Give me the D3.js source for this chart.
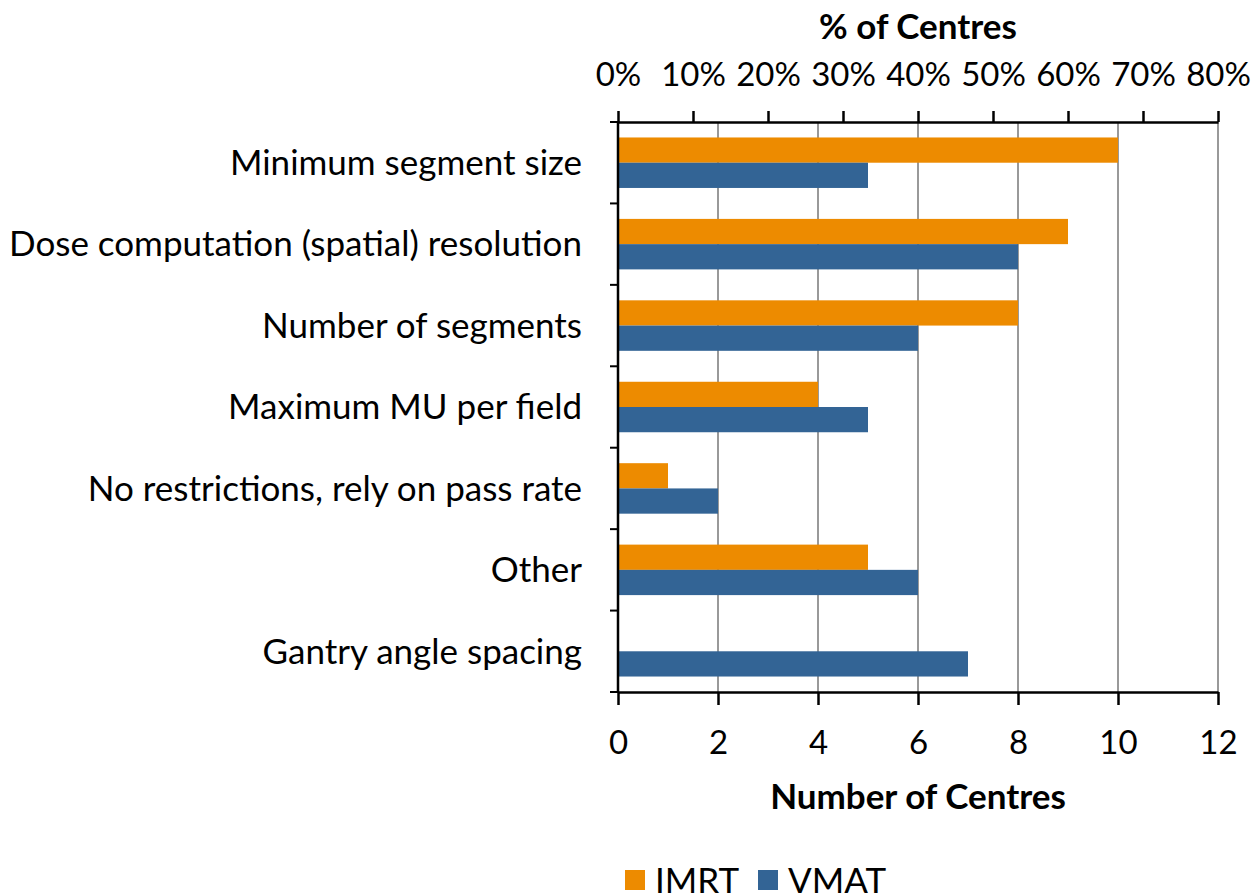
<!DOCTYPE html>
<html>
<head>
<meta charset="utf-8">
<script src="https://cdn.jsdelivr.net/npm/d3@7"></script>
<style>
  body { margin: 0; background: #fff; }
  text { font-family: Lato, "Open Sans", sans-serif; fill: #000; }
</style>
</head>
<body>
<div class="container"></div>
<script>
// chart data
var categories = ['Minimum segment size', 'Dose computation (spatial) resolution', 'Number of segments',
  'Maximum MU per field', 'No restrictions, rely on pass rate', 'Other', 'Gantry angle spacing']
var series = ['IMRT', 'VMAT']
var imrt = [10, 9, 8, 4, 1, 5, 0]
var vmat = [5, 8, 6, 5, 2, 6, 7]
var countTicks = [0, 2, 4, 6, 8, 10, 12]
var pctTicks = [0, 10, 20, 30, 40, 50, 60, 70, 80]

var colors = ['#ED8B00', '#336495']
var w = 1255, h = 894
var pLeft = 618, pRight = 1218, pTop = 122, pBottom = 692
var font = '35px'
var tickFont = '33px'

var svg = d3.select('.container')
    .append('svg')
    .attr('width', w)
    .attr('height', h)

var x = d3.scaleLinear().domain([0, 12]).range([pLeft, pRight])
var xp = d3.scaleLinear().domain([0, 80]).range([pLeft, pRight])
var y = d3.scaleBand().domain(categories).range([pTop, pBottom]).paddingInner(0.38).paddingOuter(0.19)
var ys = d3.scaleBand().domain(series).range([0, y.bandwidth()])

// gridlines
svg.append('g')
    .selectAll('line')
    .data(countTicks.slice(1))
    .enter()
    .append('line')
    .attr('x1', d => x(d)).attr('x2', d => x(d))
    .attr('y1', pTop).attr('y2', pBottom)
    .style('stroke', '#999')
    .style('stroke-width', 2)

// bars
var rows = categories.map((c, i) => ({ cat: c, vals: [imrt[i], vmat[i]] }))
var g = svg.append('g')
g.selectAll('g')
    .data(rows)
    .enter()
    .append('g')
    .attr('transform', d => 'translate(0,' + y(d.cat) + ')')
    .selectAll('rect')
    .data(d => d.vals.map((v, j) => ({ s: series[j], v: v, j: j })))
    .enter()
    .append('rect')
    .attr('x', x(0))
    .attr('y', d => ys(d.s))
    .attr('width', d => x(d.v) - x(0))
    .attr('height', ys.bandwidth())
    .style('fill', d => colors[d.j])

// bottom axis
var bx = svg.append('g')
    .attr('transform', 'translate(0,' + pBottom + ')')
    .call(d3.axisBottom(x).tickValues(countTicks).tickSizeInner(13).tickSizeOuter(0).tickPadding(26))
bx.selectAll('text').style('font-size', tickFont).style('font-family', 'Lato')

// top axis
var tx = svg.append('g')
    .attr('transform', 'translate(0,' + pTop + ')')
    .call(d3.axisTop(xp).tickValues(pctTicks).tickFormat(d => d + '%').tickSizeInner(11).tickSizeOuter(0).tickPadding(25))
tx.selectAll('text').style('font-size', tickFont).style('font-family', 'Lato')

// y axis
var yTicks = d3.range(categories.length + 1).map(i => pTop + i * (pBottom - pTop) / categories.length)
svg.append('g')
    .selectAll('line')
    .data(yTicks)
    .enter()
    .append('line')
    .attr('x1', pLeft - 8).attr('x2', pLeft)
    .attr('y1', d => d).attr('y2', d => d)
    .style('stroke', '#000').style('stroke-width', 2)
svg.append('line')
    .attr('x1', pLeft).attr('x2', pLeft)
    .attr('y1', pTop - 1).attr('y2', pBottom + 1)
    .style('stroke', '#000').style('stroke-width', 2.5)

svg.selectAll('.domain').style('stroke', '#000').style('stroke-width', 2.5)
svg.selectAll('.tick line').style('stroke', '#000').style('stroke-width', 2.5)

svg.append('g')
    .selectAll('text')
    .data(categories)
    .enter()
    .append('text')
    .attr('x', 582)
    .attr('y', d => y(d) + y.bandwidth() / 2)
    .attr('dy', '0.35em')
    .attr('text-anchor', 'end')
    .style('font-size', font)
    .text(d => d)

// titles
svg.append('text')
    .attr('x', 918).attr('y', 39)
    .attr('text-anchor', 'middle')
    .style('font-size', font).style('font-weight', 'bold')
    .text('% of Centres')
svg.append('text')
    .attr('x', 918).attr('y', 809)
    .attr('text-anchor', 'middle')
    .style('font-size', font).style('font-weight', 'bold')
    .text('Number of Centres')

// legend
var legendX = [625, 758]
var lg = svg.append('g')
    .selectAll('g')
    .data(series)
    .enter()
    .append('g')
    .attr('transform', (d, i) => 'translate(' + legendX[i] + ',870)')
lg.append('rect')
    .attr('width', 20).attr('height', 20)
    .style('fill', (d, i) => colors[i])
lg.append('text')
    .attr('x', 30).attr('y', 23)
    .style('font-size', font)
    .text(d => d)
</script>
</body>
</html>
